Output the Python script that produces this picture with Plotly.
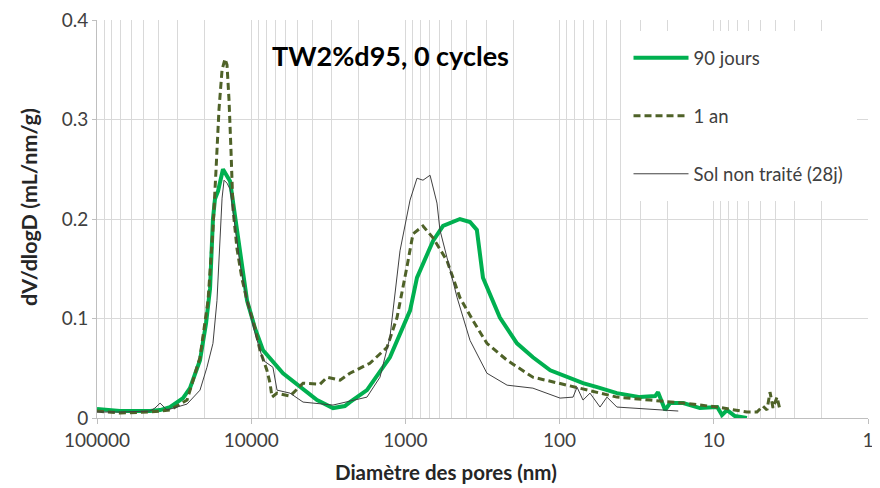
import plotly.graph_objects as go

# ---- data ----
d_90j = [100000, 71000, 45300, 39000, 33650, 27670, 24950, 21480, 19630, 18490, 17700, 17180,
         16410, 15240, 13710, 12740, 11830, 10640, 9440, 8375, 6220, 4830, 3740, 2950, 2470,
         2290, 1775, 1260, 933, 841, 662, 570, 443, 381, 344, 314, 244, 189, 149, 115, 89.5,
         70.5, 57.1, 42.5, 30.1, 24.0, 23.0, 21.7, 20.7, 19.2, 15.8, 12.3, 9.5, 8.85, 8.2, 7.3, 6.1]
v_90j = [0.009, 0.007, 0.007, 0.008, 0.011, 0.020, 0.030, 0.058, 0.095, 0.130, 0.200, 0.220,
         0.228, 0.250, 0.238, 0.205, 0.170, 0.118, 0.090, 0.068, 0.045, 0.031, 0.018, 0.010, 0.012,
         0.016, 0.028, 0.061, 0.108, 0.141, 0.178, 0.193, 0.200, 0.197, 0.189, 0.141, 0.101, 0.075,
         0.061, 0.048, 0.041, 0.035, 0.031, 0.025, 0.021, 0.022, 0.026, 0.016, 0.008, 0.015, 0.015,
         0.010, 0.011, 0.003, 0.008, 0.002, 0.000]

d_1an = [100000, 71000, 45300, 33650, 26060, 21480, 19050, 17700, 16900, 16180, 15450, 14790,
         14350, 13930, 13530, 13120, 12360, 11480, 10640, 9440, 8770, 7910, 7550, 7330, 6800,
         5600, 4610, 3580, 3220, 2650, 2290, 1700, 1316, 1133, 977, 893, 769, 662, 537, 443,
         365, 296, 219, 149, 89.5, 57.1, 42.5, 25.9, 15.8, 9.5, 6.1, 5.25, 4.8, 4.52, 4.32,
         4.13, 3.89, 3.72]
v_1an = [0.007, 0.005, 0.006, 0.008, 0.018, 0.061, 0.118, 0.190, 0.250, 0.310, 0.350, 0.361,
         0.355, 0.320, 0.270, 0.210, 0.170, 0.140, 0.118, 0.090, 0.068, 0.048, 0.035, 0.021, 0.025,
         0.022, 0.035, 0.034, 0.041, 0.038, 0.045, 0.055, 0.071, 0.101, 0.152, 0.185, 0.193, 0.181,
         0.158, 0.121, 0.098, 0.075, 0.058, 0.041, 0.033, 0.026, 0.021, 0.018, 0.015, 0.011, 0.006,
         0.006, 0.012, 0.008, 0.026, 0.010, 0.021, 0.008]

d_sol = [100000, 71000, 45300, 42100, 38990, 37300, 35200, 26060, 21480, 19360, 17700, 16670,
         15920, 15450, 15000, 14350, 13710, 12740, 11830, 10640, 9440, 8375, 7230, 6800, 5600,
         4610, 2950, 1775, 1462, 1260, 1084, 933, 841, 769, 692, 624, 597, 537, 462, 381, 296,
         219, 149, 99.3, 81.8, 77.1, 70.5, 63.5, 54.7, 49.3, 42.5, 17.0]
v_sol = [0.006, 0.006, 0.007, 0.010, 0.015, 0.012, 0.008, 0.014, 0.028, 0.051, 0.075, 0.118,
         0.180, 0.221, 0.239, 0.236, 0.230, 0.190, 0.155, 0.118, 0.085, 0.058, 0.051, 0.028, 0.025,
         0.016, 0.013, 0.021, 0.041, 0.081, 0.168, 0.219, 0.241, 0.239, 0.244, 0.216, 0.189, 0.161,
         0.121, 0.078, 0.045, 0.033, 0.030, 0.020, 0.021, 0.031, 0.018, 0.025, 0.011, 0.021, 0.011,
         0.007]

x_tickvals = [100000, 10000, 1000, 100, 10, 1]
x_ticktext = ["100000", "10000", "1000", "100", "10", "1"]
y_tickvals = [0, 0.1, 0.2, 0.3, 0.4]
y_ticktext = ["0", "0.1", "0.2", "0.3", "0.4"]

title_text = "TW2%d95, 0 cycles"
x_title = "Diamètre des pores (nm)"
y_title = "dV/dlogD (mL/nm/g)"

FONT = "Lato"

minor_vals = [m * 10 ** e for e in range(0, 5) for m in range(2, 10)]

fig = go.Figure()
fig.add_trace(go.Scatter(x=d_90j, y=v_90j, mode="lines", name="90 jours", legendgroup="a",
                         line=dict(color="#00B050", width=4)))
fig.add_trace(go.Scatter(x=d_1an, y=v_1an, mode="lines", name="1 an", legendgroup="b",
                         line=dict(color="#4F6228", width=3, dash="7px,4px")))
fig.add_trace(go.Scatter(x=d_sol, y=v_sol, mode="lines", name="Sol non traité (28j)", legendgroup="c",
                         line=dict(color="#404040", width=1)))

# page body has an 8px default margin: figure is 872x480 so plot area lands at x 97..868, y 20..418
fig.update_layout(
    width=872, height=480,
    margin=dict(l=89, r=12, t=12, b=70, autoexpand=False),
    paper_bgcolor="white", plot_bgcolor="white",
    font=dict(family=FONT, size=17, color="#595959"),
    showlegend=True,
    legend=dict(x=0.679, y=0.972, xanchor="left", yanchor="top", bgcolor="white",
                bordercolor="white", borderwidth=8,
                font=dict(family=FONT, size=18.5, color="#404040"),
                traceorder="grouped", tracegroupgap=31, itemwidth=55),
    annotations=[
        dict(text="<b>" + title_text + "</b>", x=(390 - 97) / 771, y=(418 - 56) / 398,
             xref="paper", yref="paper", xanchor="center", yanchor="middle",
             showarrow=False, font=dict(family=FONT, size=27, color="black")),
        dict(text="<b>" + x_title + "</b>", x=(446 - 97) / 771, y=-(472 - 418) / 398,
             xref="paper", yref="paper", xanchor="center", yanchor="middle",
             showarrow=False, font=dict(family=FONT, size=20.5, color="#262626")),
        dict(text="<b>" + y_title + "</b>", x=-(97 - 29) / 771, y=(418 - 207) / 398,
             xref="paper", yref="paper", xanchor="center", yanchor="middle",
             showarrow=False, textangle=-90, font=dict(family=FONT, size=21.5, color="#262626")),
    ],
)
fig.update_xaxes(type="log", range=[5, 0], tickvals=x_tickvals, ticktext=x_ticktext,
                 automargin=False, ticklabeloverflow="allow",
                 showgrid=True, gridcolor="#d9d9d9", gridwidth=1,
                 ticks="outside", ticklen=5, tickcolor="#bfbfbf",
                 showline=True, linecolor="#bfbfbf", linewidth=1, zeroline=False,
                 tickfont=dict(size=19, color="#404040"),
                 minor=dict(tickvals=minor_vals, showgrid=True, gridcolor="#d9d9d9", gridwidth=1, ticks=""))
fig.update_yaxes(range=[0, 0.4], tickvals=y_tickvals, ticktext=y_ticktext,
                 automargin=False, ticklabeloverflow="allow",
                 showgrid=True, gridcolor="#d9d9d9", gridwidth=1,
                 ticks="outside", ticklen=4, tickcolor="#bfbfbf",
                 showline=True, linecolor="#bfbfbf", linewidth=1, zeroline=False,
                 tickfont=dict(size=19, color="#404040"))

fig.write_html("out.html")
